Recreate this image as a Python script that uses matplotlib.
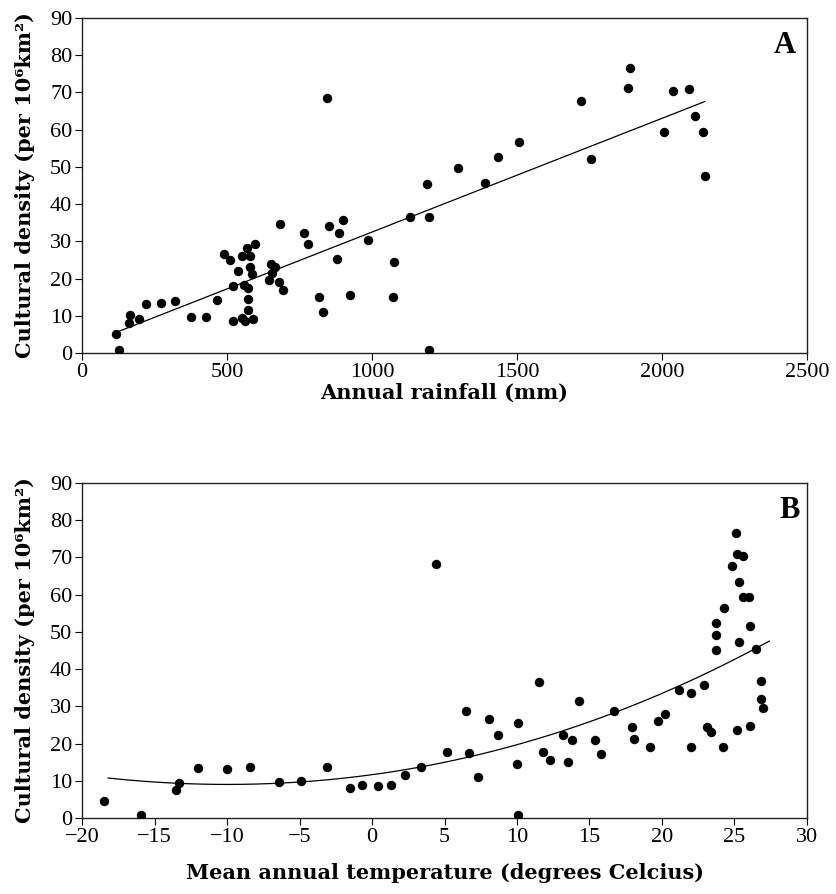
import numpy as np
import matplotlib
matplotlib.use("Agg")
import matplotlib.pyplot as plt

# Panel A: annual rainfall (mm) vs cultural density
rain_mm = [116, 128, 162, 167, 196, 219, 272, 322, 376, 426, 466, 489, 511, 521, 521,
           538, 553, 552, 562, 557, 568, 572, 572, 572, 578, 579, 587, 590, 596, 646,
           653, 656, 667, 678, 682, 692, 765, 778, 817, 832, 845, 853, 881, 887, 900,
           925, 987, 1072, 1076, 1131, 1190, 1198, 1198, 1297, 1389, 1436, 1508, 1721,
           1755, 1882, 1889, 2007, 2038, 2094, 2113, 2141, 2147]
density_a = [5.0, 0.7, 8.2, 10.1, 9.1, 13.3, 13.5, 14.1, 9.7, 9.6, 14.3, 26.5, 25.1, 8.5, 18.1,
             22.0, 26.2, 9.4, 8.5, 18.3, 28.1, 17.6, 14.4, 11.6, 26.2, 23.1, 21.3, 9.1, 29.2, 19.7,
             23.9, 21.5, 23.0, 19.2, 34.7, 17.0, 32.2, 29.2, 15.0, 11.1, 68.5, 34.1, 25.3, 32.3, 35.8,
             15.7, 30.4, 15.0, 24.5, 36.5, 45.3, 36.5, 0.7, 49.6, 45.8, 52.7, 56.8, 67.8,
             52.1, 71.3, 76.7, 59.5, 70.3, 70.9, 63.8, 59.5, 47.7]

# Panel B: mean annual temperature vs cultural density
temp_c = [-18.5, -15.9, -13.5, -13.3, -12.0, -10.0, -8.4, -6.4, -4.9, -3.1, -1.5, -0.7, 0.4,
          1.3, 2.3, 3.4, 4.4, 5.2, 6.5, 6.7, 7.3, 8.1, 8.7, 10.0, 10.1, 10.1, 11.5, 11.8,
          12.3, 13.2, 13.5, 13.8, 14.3, 15.4, 15.8, 16.7, 17.9, 18.1, 19.2, 19.7, 20.2, 21.2,
          22.0, 22.0, 22.9, 23.1, 23.4, 23.7, 23.7, 23.7, 24.2, 24.3, 24.8, 25.1, 25.2, 25.2,
          25.3, 25.3, 25.6, 25.6, 26.0, 26.1, 26.1, 26.5, 26.8, 26.8, 27.0]
density_b = [4.5, 0.7, 7.6, 9.4, 13.5, 13.3, 13.6, 9.7, 9.9, 13.8, 8.1, 8.8, 8.5,
             9.0, 11.6, 13.8, 68.2, 17.8, 28.7, 17.5, 10.9, 26.5, 22.2, 14.6, 25.4, 0.9, 36.5, 17.8,
             15.5, 22.4, 15.0, 20.9, 31.4, 20.9, 17.1, 28.7, 24.5, 21.3, 19.2, 26.1, 28.0, 34.5,
             19.2, 33.5, 35.7, 24.4, 23.0, 52.3, 49.1, 45.1, 19.2, 56.3, 67.6, 76.7, 23.6, 70.9,
             47.2, 63.4, 70.4, 59.4, 59.5, 24.8, 51.5, 45.3, 36.7, 32.0, 29.6]

# trend curve of panel B
trend_t = [-18.2, -13.3, -9.9, -6.4, -4.9, 0.1, 3.4, 7.2, 13.4, 17.0, 21.2, 27.4]
trend_d = [10.6, 9.4, 9.2, 9.5, 9.8, 11.2, 13.7, 17.0, 23.7, 28.7, 35.8, 47.4]

plt.rcParams["font.family"] = ["Liberation Serif", "DejaVu Serif"]
plt.rcParams["axes.unicode_minus"] = True

lab_font = dict(family="DejaVu Serif", fontsize=15, fontweight="bold")

fig = plt.figure(figsize=(8.36, 8.94), dpi=100)
ax_a = fig.add_axes([0.0981, 0.6051, 0.8672, 0.3747])
ax_b = fig.add_axes([0.0981, 0.0850, 0.8672, 0.3747])

ylab = "Cultural density (per 10\u2076km\u00b2)"

# A: linear trend
ax_a.scatter(rain_mm, density_a, s=46, color="black", zorder=3, linewidths=0)
k, b = np.polyfit(rain_mm, density_a, 1)
xs = np.linspace(min(rain_mm) + 10, max(rain_mm), 50)
ax_a.plot(xs, k * xs + b, color="black", lw=0.9)
ax_a.set_xlim(0, 2500)
ax_a.set_xticks([0, 500, 1000, 1500, 2000, 2500])
ax_a.set_xlabel("Annual rainfall (mm)", labelpad=1, **lab_font)
ax_a.text(0.985, 0.96, "A", transform=ax_a.transAxes, ha="right", va="top",
          fontsize=22, fontweight="bold")

# B: polynomial trend
ax_b.scatter(temp_c, density_b, s=46, color="black", zorder=3, linewidths=0)
coef = np.polyfit(trend_t, trend_d, 3)
ts = np.linspace(min(trend_t), max(trend_t), 100)
ax_b.plot(ts, np.polyval(coef, ts), color="black", lw=0.9)
ax_b.set_xlim(-20, 30)
ax_b.set_xticks(range(-20, 31, 5))
ax_b.set_xlabel("Mean annual temperature (degrees Celcius)", labelpad=12, **lab_font)
ax_b.text(0.99, 0.96, "B", transform=ax_b.transAxes, ha="right", va="top",
          fontsize=22, fontweight="bold")

for ax in (ax_a, ax_b):
    ax.set_ylim(0, 90)
    ax.set_yticks(range(0, 91, 10))
    ax.set_ylabel(ylab, labelpad=11, **lab_font)
    ax.tick_params(direction="out", length=5, width=0.8, labelsize=16, colors="black", pad=2)
    for sp in ax.spines.values():
        sp.set_linewidth(1.0)
        sp.set_color("#222222")

fig.savefig("out.png", dpi=100)
